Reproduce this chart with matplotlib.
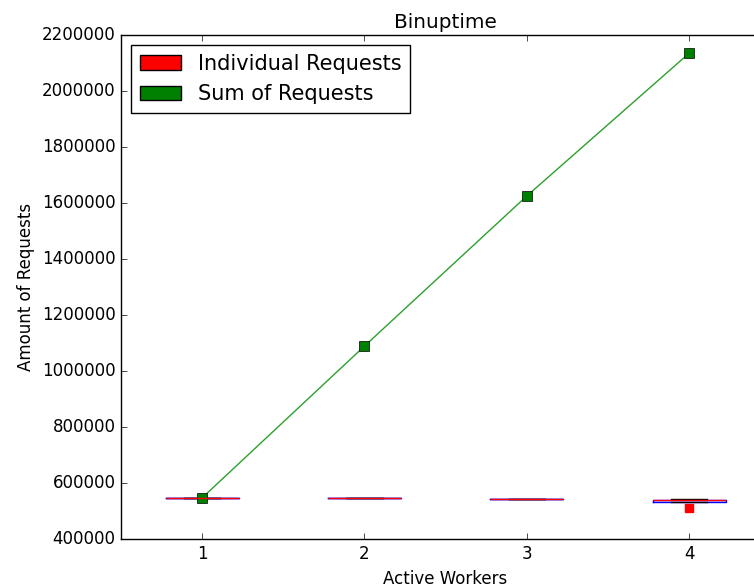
import matplotlib
matplotlib.use("Agg")
import matplotlib.pyplot as plt
import matplotlib.patches as mpatches

plt.style.use("classic")

workers = [1, 2, 3, 4]
individual_requests = [
    [546000],
    [545000, 545500],
    [541500, 542000, 542500],
    [512000, 539500, 540500, 541500],
]
sum_of_requests = [547000, 1089000, 1625000, 2135000]

fig = plt.figure(figsize=(7.54, 5.86), dpi=100)
ax = fig.add_axes([0.1605, 0.0802, 0.861, 0.860])

ax.boxplot(individual_requests, positions=workers, sym="rs",
           flierprops=dict(markerfacecolor="red", markeredgecolor="black", markersize=6))
ax.plot(workers, sum_of_requests, color="#2ca02c", marker="s", markersize=6.5,
        markerfacecolor="green", markeredgecolor="black")

ax.set_xlim(0.5, 4.5)
ax.set_ylim(400000, 2200000)
ax.set_xticks(workers)
ax.set_xticklabels([str(w) for w in workers])
ax.set_title("Binuptime", fontsize=14.4)
ax.set_xlabel("Active Workers")
ax.set_ylabel("Amount of Requests")

red_patch = mpatches.Patch(facecolor="red", edgecolor="black", label="Individual Requests")
green_patch = mpatches.Patch(facecolor="green", edgecolor="black", label="Sum of Requests")
ax.legend(handles=[red_patch, green_patch], loc="upper left", fontsize=15)

fig.savefig("out.png", dpi=100)
